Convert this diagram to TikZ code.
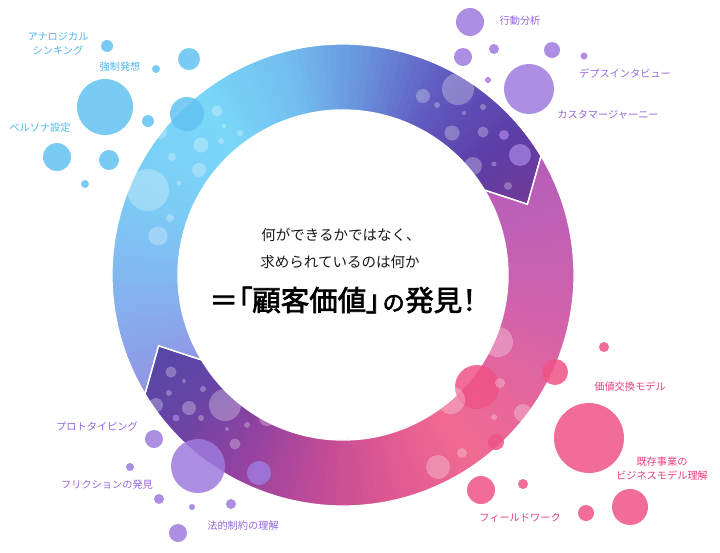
\documentclass[tikz,border=0pt]{standalone}
\usepackage{fontspec}
\newfontfamily\jp[AutoFakeBold=2.5]{Noto Sans CJK JP}
\newfontfamily\jpp[AutoFakeBold=2.5, RawFeature={+palt}]{Noto Sans CJK JP}

\definecolor{bubblue}{HTML}{62C2F2}
\definecolor{bubpurple}{HTML}{9E7ADE}
\definecolor{bubpink}{HTML}{EF5287}
\definecolor{labblue}{HTML}{4FB6EA}
\definecolor{labpurple}{HTML}{9466DC}
\definecolor{labpink}{HTML}{E8407A}

% ring colours, first arrow
\definecolor{a0}{HTML}{9490E2}
\definecolor{a1}{HTML}{86AEEE}
\definecolor{a2}{HTML}{7CCBF6}
\definecolor{a3}{HTML}{7AD8F8}
\definecolor{a4}{HTML}{72BEF0}
\definecolor{a5}{HTML}{6A94DE}
\definecolor{a6}{HTML}{6058BE}
\definecolor{a7}{HTML}{5C3EA8}
\definecolor{a8}{HTML}{783892}
% ring colours, second arrow
\definecolor{b0}{HTML}{B45CBA}
\definecolor{b1}{HTML}{C060B6}
\definecolor{b2}{HTML}{D062AC}
\definecolor{b3}{HTML}{E6669C}
\definecolor{b4}{HTML}{F06A92}
\definecolor{b5}{HTML}{E05A92}
\definecolor{b6}{HTML}{C44C96}
\definecolor{b7}{HTML}{9442A0}
\definecolor{b8}{HTML}{6644A6}
\definecolor{b9}{HTML}{5048A8}

\newcommand\ringband[4]{%
  \foreach \k in {0,...,11} {
    \pgfmathsetmacro\ta{#1+(#2-#1)*\k/12}
    \pgfmathsetmacro\tb{#1+(#2-#1)*(\k+1.5)/12}
    \pgfmathtruncatemacro\tp{100-100*(\k+0.5)/12}
    \colorlet{bandc}{#3!\tp!#4}
    \draw[bandc, line width=74pt] (\ta:197.5) arc[start angle=\ta, end angle=\tb, radius=197.5];
  }}

\def\arrowone{(149:165) -- (159:197.5) -- (149:231) arc[start angle=149, end angle=329, radius=231] -- (339:197.5) -- (329:165) arc[start angle=329, end angle=149, radius=165] -- cycle}
\def\arrowtwo{(329:165) -- (339:197.5) -- (329:231) arc[start angle=329, end angle=509, radius=231] -- (519:197.5) -- (509:165) arc[start angle=509, end angle=329, radius=165] -- cycle}

\begin{document}
\begin{tikzpicture}[x=1pt, y=-1pt,
    bub/.style={fill=#1, fill opacity=0.85},
    glint/.style={fill=white, fill opacity=0.28},
    lab/.style={font=\jp\fontsize{10.2}{14}\selectfont, text=#1, align=center, inner sep=0pt}]
  \useasboundingbox (0,0) rectangle (720,552);
  \coordinate (C) at (343,275);

  % the two arrows of the ring
  \begin{scope}[shift={(C)}]
    \begin{scope}
      \clip \arrowone;
      \foreach \s/\e/\ca/\cb in {145/170/a0/a1, 170/200/a1/a2, 200/230/a2/a3, 230/255/a3/a4,
          255/275/a4/a5, 275/298/a5/a6, 298/320/a6/a7, 320/345/a7/a8}
        \ringband{\s}{\e}{\ca}{\cb};
    \end{scope}
    \begin{scope}
      \clip \arrowtwo;
      \foreach \s/\e/\ca/\cb in {325/345/b0/b1, 345/370/b1/b2, 370/395/b2/b3, 395/415/b3/b4,
          415/435/b4/b5, 435/455/b5/b6, 455/478/b6/b7, 478/500/b7/b8, 500/525/b8/b9}
        \ringband{\s}{\e}{\ca}{\cb};
    \end{scope}
    \draw[white, line width=1.3pt] \arrowone;
    \draw[white, line width=1.3pt] \arrowtwo;
  \end{scope}

  % bubbles
  \foreach \x/\y/\r in {107/46/6, 189/59/11, 156/69/4, 105/107/28, 148/121/6, 187/114/17,
      57/157/14, 109/160/10, 85/184/4}
    \fill[bub=bubblue] (\x,\y) circle[radius=\r];
  \foreach \x/\y/\r in {470/22/14, 463/57/9, 494/49/5, 552/50/8, 584/56/3.5, 488/80/3,
      529/89/25, 504/135/5, 520/155/11, 154/439/9, 198/466/27, 130/467/4, 159/499/5,
      192/507/3, 231/504/5, 178/533/9, 259/473/12, 176/418/3.5}
    \fill[bub=bubpurple] (\x,\y) circle[radius=\r];
  \foreach \x/\y/\r in {604/347/5, 555/372/13, 477/387/22, 589/438/35, 496/442/8,
      481/490/14, 523/484/5, 586/513/8, 630/507/18}
    \fill[bub=bubpink] (\x,\y) circle[radius=\r];

  \begin{scope}
    \clip (C) circle[radius=231];
    \foreach \x/\y/\r in {217/111/5.5, 224/126/2, 240/133/3, 221/141/3, 201/145/7.5,
        172/157/4, 199/170/7, 179/183/2.5, 148/190/21, 170/218/4, 158/236/9.5, 160/132/7,
        458/89/16, 423/96/7, 437/105/3, 483/107/3, 464/113/2, 452/133/7.5, 483/132/5.5,
        473/166/9, 494/164/2.5, 508/186/4,
        171/372/5.5, 184/381/2, 203/389/3, 169/393/3, 156/405/7, 189/408/7, 225/405/16,
        201/418/3, 227/429/2, 247/425/3, 235/444/5.5, 267/418/8,
        498/342/15, 500/383/5, 451/400/14, 523/413/9, 494/417/3, 462/453/5, 438/467/12}
      \fill[glint] (\x,\y) circle[radius=\r];
  \end{scope}

  % centre text
  \node[font=\jp\fontsize{14.5}{18}\selectfont, text=black!90] (q1) at (341,235) {何ができるかではなく、};
  \node[font=\jp\fontsize{14.5}{18}\selectfont, text=black!90] (q2) at (340,262) {求められているのは何か};
  \node[font=\jpp\bfseries\fontsize{28.5}{32}\selectfont, text=black] (ans) at (343,300)
    {＝「顧客価値」\kern2.5pt{\fontsize{22}{22}\selectfont の}\kern1pt 発見！};

  % labels
  \node[lab=labblue] (analog) at (58,44) {アナロジカル\\シンキング};
  \node[lab=labblue] (kyosei) at (120,67) {強制発想};
  \node[lab=labblue] (persona) at (40,128) {ペルソナ設定};
  \node[lab=labpurple] (kodo) at (520,21) {行動分析};
  \node[lab=labpurple] (depth) at (625,73) {デプスインタビュー};
  \node[lab=labpurple] (journey) at (608,115) {カスタマージャーニー};
  \node[lab=labpurple] (proto) at (97,427) {プロトタイピング};
  \node[lab=labpurple] (friction) at (107,485) {フリクションの発見};
  \node[lab=labpurple] (hoteki) at (243,526) {法的制約の理解};
  \node[lab=labpink] (kachi) at (630,387) {価値交換モデル};
  \node[lab=labpink] (kizon) at (662,469) {既存事業の\\ビジネスモデル理解};
  \node[lab=labpink] (field) at (520,518) {フィールドワーク};
\end{tikzpicture}
\end{document}
